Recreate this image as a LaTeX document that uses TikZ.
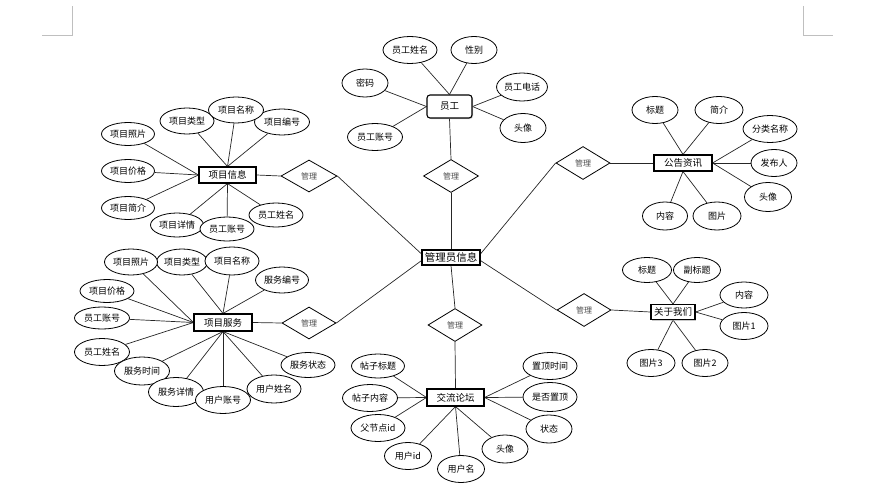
\documentclass[tikz,border=0pt]{standalone}
\usepackage{fontspec}
\setmainfont{Noto Sans CJK SC}
\usetikzlibrary{shapes.geometric,shadows,backgrounds}
\begin{document}
\begin{tikzpicture}[x=1pt,y=-1pt,
  sz/.style 2 args={minimum width=#1pt,minimum height=#2pt},
  ell/.style={ellipse,draw=black,line width=0.8pt,fill=white,inner sep=0pt,font=\fontsize{9}{10}\selectfont},
  ebox/.style={rectangle,draw=black,line width=1.1pt,fill=white,inner sep=0pt,font=\fontsize{9.5}{10}\selectfont,
    drop shadow={shadow xshift=1pt,shadow yshift=-1pt,fill=black!35,opacity=0.6}},
  rel/.style={diamond,draw=black,line width=0.8pt,fill=white,inner sep=0pt,font=\fontsize{8}{9}\selectfont,text=black!70},
  link/.style={draw=black!85,line width=0.7pt},
  corner/.style={draw=black!25,line width=0.8pt}]
\useasboundingbox (0,0) rectangle (891,495);
\draw[corner] (42,35) -- (72,35) -- (72,6);
\draw[corner] (803,6) -- (803,35) -- (833,35);

% central
\node[ebox,sz={58}{15},font=\fontsize{10.5}{12}\selectfont] (admin) at (451,257.5) {管理员信息};

% employee
\node[ebox,sz={45}{23},rounded corners=3pt] (emp) at (449.5,106.5) {员工};
\node[ell,sz={54}{27}] (e1) at (410,50) {员工姓名};
\node[ell,sz={46}{27}] (e2) at (474,50) {性别};
\node[ell,sz={46}{28}] (e3) at (365,83) {密码};
\node[ell,sz={46}{28}] (e4) at (522,87) {员工电话};
\node[ell,sz={55}{27}] (e5) at (375,137) {员工账号};
\node[ell,sz={46}{29}] (e6) at (523,128) {头像};
\node[rel,sz={55}{33}] (d1) at (451,176) {管理};

% project info
\node[ebox,sz={57}{16}] (pinfo) at (227.5,175) {项目信息};
\node[ell,sz={53}{23}] (a1) at (128,134) {项目照片};
\node[ell,sz={54}{26}] (a2) at (187,121) {项目类型};
\node[ell,sz={55}{26}] (a4) at (282,122) {项目编号};
\node[ell,sz={55}{26}] (a3) at (236,110) {项目名称};
\node[ell,sz={53}{23}] (a5) at (128,171) {项目价格};
\node[ell,sz={53}{23}] (a6) at (128,208) {项目简介};
\node[ell,sz={53}{24}] (a7) at (177,225) {项目详情};
\node[ell,sz={54}{24}] (a9) at (276,215) {员工姓名};
\node[ell,sz={54}{24}] (a8) at (227,229) {员工账号};
\node[rel,sz={56}{32}] (d2) at (309,176) {管理};

% project service
\node[ebox,sz={58}{17}] (psvc) at (223,322.5) {项目服务};
\node[ell,sz={50}{26}] (b2) at (182,262) {项目类型};
\node[ell,sz={53}{26}] (b1) at (131,262) {项目照片};
\node[ell,sz={54}{28}] (b3) at (232,261) {项目名称};
\node[ell,sz={53}{26}] (b4) at (282,280) {服务编号};
\node[ell,sz={54}{23}] (b5) at (107,291) {项目价格};
\node[ell,sz={55}{22}] (b6) at (102,318) {员工账号};
\node[ell,sz={55}{27}] (b7) at (102,352) {员工姓名};
\node[ell,sz={55}{28}] (b8) at (142,371) {服务时间};
\node[ell,sz={55}{29}] (b9) at (176,392) {服务详情};
\node[ell,sz={55}{27}] (b10) at (223,400) {用户账号};
\node[ell,sz={54}{28}] (b11) at (274,389) {用户姓名};
\node[ell,sz={54}{25}] (b12) at (308,365) {服务状态};
\node[rel,sz={54}{32}] (d3) at (309,323) {管理};

% news
\node[ebox,sz={58}{16}] (news) at (683,163) {公告资讯};
\node[ell,sz={46}{27}] (c1) at (655,110) {标题};
\node[ell,sz={48}{27}] (c2) at (719,110) {简介};
\node[ell,sz={54}{27}] (c3) at (770,129) {分类名称};
\node[ell,sz={46}{27}] (c4) at (774,163) {发布人};
\node[ell,sz={47}{29}] (c5) at (768,197) {头像};
\node[ell,sz={45}{28}] (c6) at (665,216) {内容};
\node[ell,sz={48}{28}] (c7) at (717,216) {图片};
\node[rel,sz={54}{33}] (d4) at (583,163) {管理};

% about us
\node[ebox,sz={44}{15},font=\fontsize{9.5}{11}\selectfont] (about) at (673,312) {关于我们};
\node[ell,sz={49}{25}] (f1) at (647,270) {标题};
\node[ell,sz={47}{25}] (f2) at (697,270) {副标题};
\node[ell,sz={48}{26}] (f3) at (744,295) {内容};
\node[ell,sz={48}{27}] (f4) at (744,326) {图片1};
\node[ell,sz={48}{27}] (f5) at (651,363) {图片3};
\node[ell,sz={46}{27}] (f6) at (705,363) {图片2};
\node[rel,sz={54}{33}] (d5) at (584,310) {管理};

% forum
\node[ebox,sz={57}{17}] (forum) at (455.5,397.5) {交流论坛};
\node[ell,sz={53}{24}] (g1) at (378,366) {帖子标题};
\node[ell,sz={55}{27}] (g2) at (370,398) {帖子内容};
\node[ell,sz={54}{27}] (g3) at (378,428) {父节点id};
\node[ell,sz={47}{27}] (g4) at (408,456) {用户id};
\node[ell,sz={47}{27}] (g5) at (461,469) {用户名};
\node[ell,sz={46}{28}] (g6) at (505,449) {头像};
\node[ell,sz={54}{27}] (g7) at (550,366) {置顶时间};
\node[ell,sz={54}{29}] (g8) at (550,397) {是否置顶};
\node[ell,sz={46}{28}] (g9) at (549,429) {状态};
\node[rel,sz={54}{33}] (d6) at (455,325) {管理};

\begin{scope}[on background layer]
  % employee
  \foreach \n in {e1,e2} \draw[link] (\n) -- (emp.north);
  \foreach \n in {e3,e5} \draw[link] (\n) -- (emp.west);
  \foreach \n in {e4,e6} \draw[link] (\n) -- (emp.east);
  \draw[link] (emp.south) -- (d1.north);
  \draw[link] (d1.south) -- (admin.north);
  % project info
  \foreach \n in {a1,a5,a6} \draw[link] (\n) -- (pinfo.west);
  \foreach \n in {a2,a3,a4} \draw[link] (\n) -- (pinfo.north);
  \foreach \n in {a7,a8,a9} \draw[link] (\n) -- (pinfo.south);
  \draw[link] (pinfo.east) -- (d2.west);
  \draw[link] (d2.east) -- (admin.173);
  % project service
  \foreach \n in {b1,b5,b6,b7} \draw[link] (\n) -- (psvc.west);
  \foreach \n in {b2,b3,b4} \draw[link] (\n) -- (psvc.north);
  \foreach \n in {b8,b9,b10,b11,b12} \draw[link] (\n) -- (psvc.south);
  \draw[link] (psvc.east) -- (d3.west);
  \draw[link] (d3.east) -- (admin.186);
  % news
  \foreach \n in {c1,c2} \draw[link] (\n) -- (news.north);
  \foreach \n in {c3,c4,c5} \draw[link] (\n) -- (news.east);
  \foreach \n in {c6,c7} \draw[link] (\n) -- (news.south);
  \draw[link] (d4.east) -- (news.west);
  \draw[link] (d4.west) -- (admin.7);
  % about
  \foreach \n in {f1,f2} \draw[link] (\n) -- (about.north);
  \foreach \n in {f3,f4} \draw[link] (\n) -- (about.east);
  \foreach \n in {f5,f6} \draw[link] (\n) -- (about.south);
  \draw[link] (d5.east) -- (about.west);
  \draw[link] (d5.west) -- (admin.354);
  % forum
  \foreach \n in {g1,g2,g3} \draw[link] (\n) -- (forum.west);
  \foreach \n in {g4,g5,g6} \draw[link] (\n) -- (forum.south);
  \foreach \n in {g7,g8,g9} \draw[link] (\n) -- (forum.east);
  \draw[link] (d6.south) -- (forum.north);
  \draw[link] (d6.north) -- (admin.south);
\end{scope}
\end{tikzpicture}
\end{document}
